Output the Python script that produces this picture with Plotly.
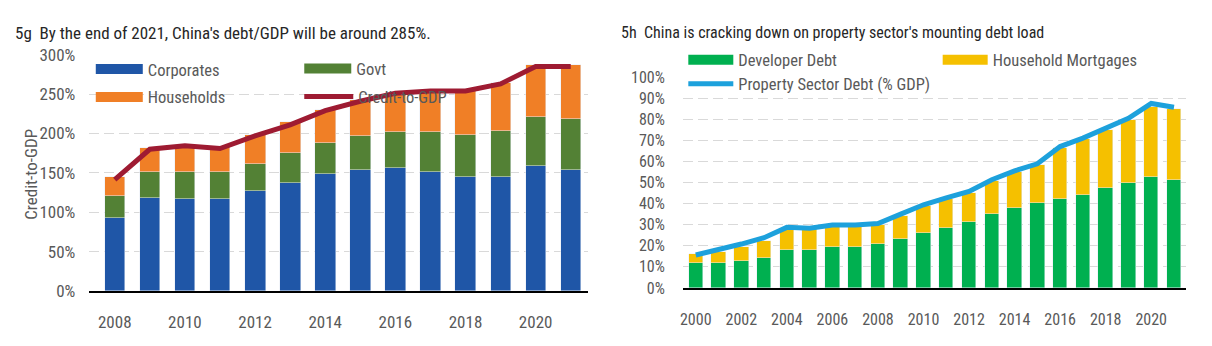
import plotly.graph_objects as go

# ---------------- data: left chart (5g) ----------------
years_l = list(range(2008, 2022))
corporates = [93.5, 118.5, 117.5, 117.5, 127.5, 138, 148.5, 154, 156, 152, 145.5, 145.5, 158.5, 154]
govt = [28, 33.5, 34.5, 34.5, 34, 37, 39.5, 43, 46, 50, 52.5, 58.5, 62.5, 64.5]
households = [24, 30.5, 34, 31, 37, 40, 42, 46, 50, 53, 57, 61, 66, 68.5]
credit_to_gdp = [141.5, 180, 184.5, 181, 197, 211, 229, 241, 251, 254, 254, 263, 285, 285]
ticks_l = list(range(2008, 2021, 2))
yticks_l = list(range(0, 301, 50))
yticklabels_l = [f"{v}%" for v in yticks_l]

# ---------------- data: right chart (5h) ----------------
years_r = list(range(2000, 2022))
developer_debt = [11.9, 11.9, 12.6, 14.1, 17.9, 17.9, 19.3, 19.3, 20.8, 23.1, 26, 28.3,
                  31.25, 35, 37.9, 40.2, 42.4, 43.9, 47.6, 49.9, 52.8, 51.3]
household_mortgages = [4, 5.2, 6.7, 8.2, 9.9, 9.9, 10, 10, 9.2, 11.2, 12.7, 13.7,
                       13.75, 15.5, 16.9, 18.3, 23.9, 26.5, 27.5, 29.7, 32.8, 33.5]
property_debt = [15.6, 17.9, 20.8, 23.8, 28.7, 28.3, 29.8, 29.8, 30.5, 35, 39.4, 42.7,
                 45.7, 51.3, 55.5, 58.8, 67, 71, 75.9, 80.4, 87.4, 85.6]
ticks_r = list(range(2000, 2021, 2))
yticks_r = list(range(0, 101, 10))
yticklabels_r = [f"{v}%" for v in yticks_r]

FONT = "Roboto Condensed, Liberation Sans Narrow, sans-serif"
TICK_COLOR = "#595959"
LEG_COLOR = "#595959"
TITLE_COLOR = "#262626"
GRID = "#D9D9D9"

C_CORP = "#1F56A7"
C_GOVT = "#538135"
C_HH = "#F07F26"
C_LINE_L = "#9E1B32"
C_DEV = "#00B050"
C_MORT = "#F5C000"
C_LINE_R = "#1DA1DC"

W, H = 1212, 346
def px_x(p):
    return p / W
def px_y(p):
    return 1 - p / H

fig = go.Figure()

# left chart
fig.add_trace(go.Bar(x=years_l, y=corporates, name="Corporates", marker_color=C_CORP,
                     width=0.585, xaxis="x", yaxis="y", showlegend=False))
fig.add_trace(go.Bar(x=years_l, y=govt, name="Govt", marker_color=C_GOVT,
                     width=0.585, xaxis="x", yaxis="y", showlegend=False))
fig.add_trace(go.Bar(x=years_l, y=households, name="Households", marker_color=C_HH,
                     width=0.585, xaxis="x", yaxis="y", showlegend=False))
fig.add_trace(go.Scatter(x=years_l, y=credit_to_gdp, name="Credit-to-GDP", mode="lines",
                         line=dict(color=C_LINE_L, width=5), xaxis="x", yaxis="y", showlegend=False))

# right chart
fig.add_trace(go.Bar(x=years_r, y=developer_debt, name="Developer Debt", marker_color=C_DEV,
                     width=0.635, xaxis="x2", yaxis="y2", showlegend=False))
fig.add_trace(go.Bar(x=years_r, y=household_mortgages, name="Household Mortgages", marker_color=C_MORT,
                     width=0.635, xaxis="x2", yaxis="y2", showlegend=False))
fig.add_trace(go.Scatter(x=years_r, y=property_debt, name="Property Sector Debt (% GDP)", mode="lines",
                         line=dict(color=C_LINE_R, width=5), xaxis="x2", yaxis="y2", showlegend=False))

# legend entries, one legend box per entry so they sit where the original has them
# (name, colour, line width, legend id, swatch left px, centre y px, swatch width px, font size)
legend_items = [
    ("Corporates", C_CORP, 10, "legend", 97, 68, 47, 16.5),
    ("Govt", C_GOVT, 10, "legend2", 306, 67.5, 47, 16.5),
    ("Households", C_HH, 10, "legend3", 97, 97.5, 47, 16.5),
    ("Credit-to-GDP", C_LINE_L, 5, "legend4", 306, 97, 49, 16.5),
    ("Developer Debt", C_DEV, 10, "legend5", 691, 58, 45, 16.5),
    ("Household Mortgages", C_MORT, 10, "legend6", 946, 58, 45, 16.5),
    ("Property Sector Debt (% GDP)", C_LINE_R, 5, "legend7", 691, 83.5, 45, 16.5),
]
legend_layouts = {}
for name, col, lw, lg, lx, ly, iw, fs in legend_items:
    fig.add_trace(go.Scatter(x=[None], y=[None], mode="lines", name=name,
                             line=dict(color=col, width=lw), legend=lg, xaxis="x", yaxis="y"))
    legend_layouts[lg] = dict(x=px_x(lx - 9), y=px_y(ly - 5), xanchor="left", yanchor="middle",
                              bgcolor="rgba(0,0,0,0)", borderwidth=0, itemwidth=iw,
                              font=dict(family=FONT, size=fs, color=LEG_COLOR))

font_l = dict(family=FONT, size=17, color=TICK_COLOR)
font_r = dict(family=FONT, size=16, color=TICK_COLOR)

fig.update_layout(
    width=W, height=H,
    margin=dict(l=0, r=0, t=0, b=0),
    paper_bgcolor="white", plot_bgcolor="white",
    barmode="stack", bargap=0,
    font=dict(family=FONT, size=16, color=TICK_COLOR),
    xaxis=dict(domain=[px_x(86), px_x(586)], range=[2007.26, 2021.48], tickvals=ticks_l,
               showgrid=False, showline=True, linecolor="black", linewidth=1.5,
               ticks="outside", ticklen=15, tickcolor="rgba(0,0,0,0)",
               tickfont=font_l, anchor="y"),
    yaxis=dict(domain=[px_y(298.3), px_y(47.5)], range=[0, 300],
               tickvals=yticks_l, ticktext=yticklabels_l,
               showgrid=True, gridcolor=GRID, griddash="10px,5px", gridwidth=1,
               zeroline=False, ticks="outside", ticklen=9, tickcolor="rgba(0,0,0,0)",
               tickfont=font_l, anchor="x"),
    xaxis2=dict(domain=[px_x(681.7), px_x(1186)], range=[1999.44, 2021.53], tickvals=ticks_r,
                showgrid=False, showline=True, linecolor="black", linewidth=1.5,
                ticks="outside", ticklen=16, tickcolor="rgba(0,0,0,0)",
                tickfont=font_r, anchor="y2"),
    yaxis2=dict(domain=[px_y(295), px_y(71)], range=[0, 100],
                tickvals=yticks_r, ticktext=yticklabels_r,
                showgrid=True, gridcolor=GRID, griddash="10px,5px", gridwidth=1,
                zeroline=False, ticks="outside", ticklen=14, tickcolor="rgba(0,0,0,0)",
                tickfont=font_r, anchor="x2"),
    annotations=[
        dict(text="5g  By the end of 2021, China's debt/GDP will be around 285%.",
             xref="paper", yref="paper", x=px_x(10), y=px_y(24), xanchor="left", yanchor="middle",
             showarrow=False, font=dict(family=FONT, size=17, color=TITLE_COLOR)),
        dict(text="5h  China is cracking down on property sector's mounting debt load",
             xref="paper", yref="paper", x=px_x(618), y=px_y(24), xanchor="left", yanchor="middle",
             showarrow=False, font=dict(family=FONT, size=16, color=TITLE_COLOR)),
        dict(text="Credit-to-GDP", textangle=-90,
             xref="paper", yref="paper", x=px_x(28), y=px_y(174), xanchor="center", yanchor="middle",
             showarrow=False, font=font_l),
    ],
    **legend_layouts,
)

fig.write_html("out.html")
